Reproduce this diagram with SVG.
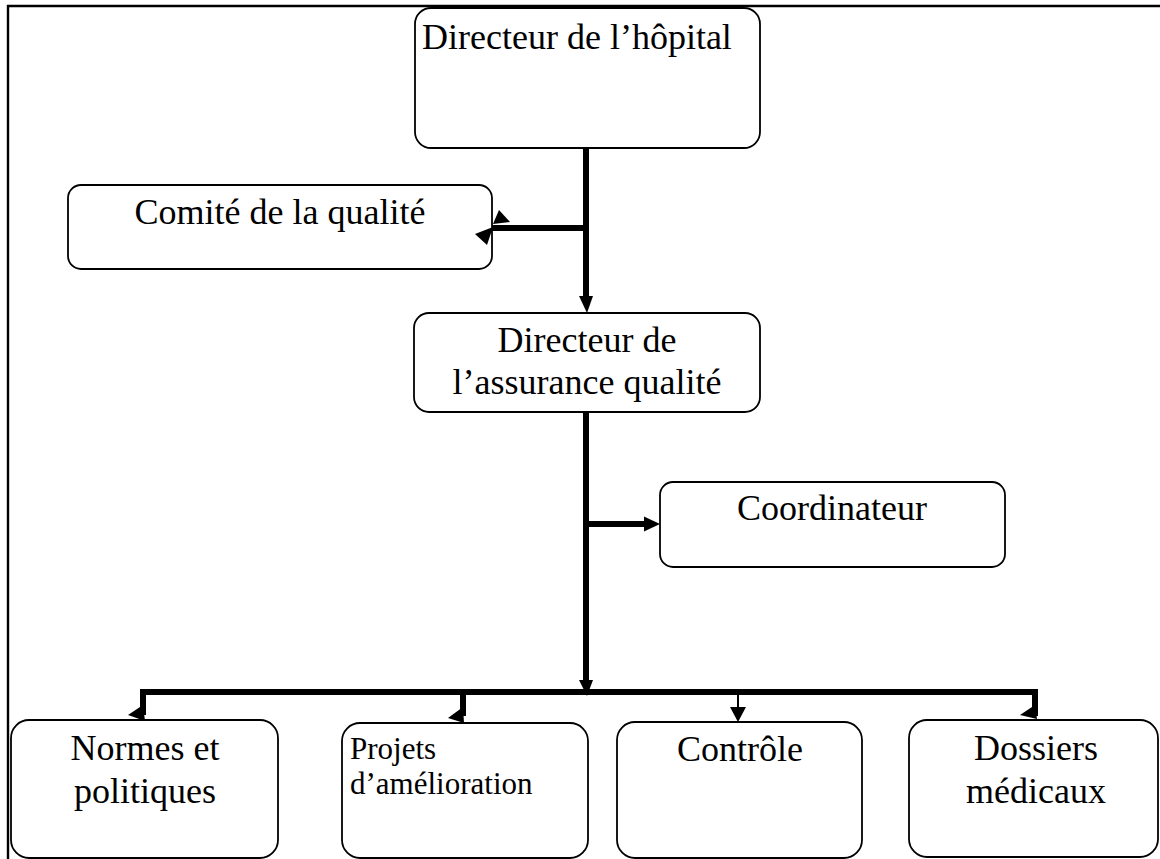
<svg xmlns="http://www.w3.org/2000/svg" width="1160" height="859" viewBox="0 0 1160 859">
<style>
.box{fill:#fff;stroke:#000;stroke-width:1.8}
.t{font-family:"Liberation Serif","Times New Roman",serif;font-size:36px;fill:#000}
.s{font-size:31px}
.c{text-anchor:middle}
.thick{stroke:#000;stroke-width:6;fill:none}
.thin{stroke:#000;stroke-width:2;fill:none}
.head{fill:#000;stroke:none}
</style>
<rect x="0" y="0" width="1160" height="859" fill="#fff"/>
<g id="frame">
<line x1="7" y1="6" x2="1160" y2="6" stroke="#000" stroke-width="2.4"/>
<line x1="8" y1="5" x2="8" y2="859" stroke="#000" stroke-width="2.4"/>
</g>
<g id="n-directeur-hopital">
<rect class="box" x="415" y="8" width="345" height="140" rx="16"/>
<text class="t" x="422" y="49">Directeur de l’hôpital</text>
</g>
<g id="n-comite">
<rect class="box" x="68" y="185" width="424" height="84" rx="13"/>
<text class="t c" x="280" y="224">Comité de la qualité</text>
</g>
<g id="n-directeur-aq">
<rect class="box" x="414" y="313" width="346" height="99" rx="15"/>
<text class="t c" x="587" y="352">Directeur de</text>
<text class="t c" x="587" y="394">l’assurance qualité</text>
</g>
<g id="n-coordinateur">
<rect class="box" x="660" y="482" width="345" height="85" rx="13"/>
<text class="t c" x="832" y="520">Coordinateur</text>
</g>
<g id="n-normes">
<rect class="box" x="11" y="720" width="267" height="138" rx="18"/>
<text class="t c" x="145" y="760">Normes et</text>
<text class="t c" x="145" y="803">politiques</text>
</g>
<g id="n-projets">
<rect class="box" x="342" y="723" width="246" height="135" rx="18"/>
<text class="t s" x="350" y="759">Projets</text>
<text class="t s" x="350" y="794">d’amélioration</text>
</g>
<g id="n-controle">
<rect class="box" x="617" y="722" width="245" height="136" rx="18"/>
<text class="t c" x="740" y="761">Contrôle</text>
</g>
<g id="n-dossiers">
<rect class="box" x="909" y="720" width="249" height="137" rx="18"/>
<text class="t c" x="1036" y="760">Dossiers</text>
<text class="t c" x="1036" y="803">médicaux</text>
</g>
<g id="connectors">
<line class="thick" x1="586" y1="148" x2="586" y2="298"/>
<polygon class="head" points="579,296 593,296 587,313"/>
<line class="thick" x1="586" y1="228" x2="492" y2="228"/>
<polygon class="head" points="493,224 499,210 510,222"/>
<polygon class="head" points="475,234 493,227 487,245"/>
<line class="thick" x1="586" y1="412" x2="586" y2="682"/>
<polygon class="head" points="579,680 593,680 587,696"/>
<line class="thick" x1="586" y1="524" x2="646" y2="524"/>
<polygon class="head" points="644,516.5 644,531.5 660,524"/>
<polyline class="thick" points="143,715 143,692 1035,692 1035,716"/>
<polygon class="head" points="128,715 143,705 145,721"/>
<line class="thick" x1="463" y1="692" x2="463" y2="716"/>
<polygon class="head" points="448,718 463,707 464,723"/>
<polygon class="head" points="1020,715 1035,705 1037,719"/>
<line class="thin" x1="738" y1="695" x2="738" y2="710"/>
<polygon class="head" points="730,707 746,707 738,722"/>
</g>
</svg>
